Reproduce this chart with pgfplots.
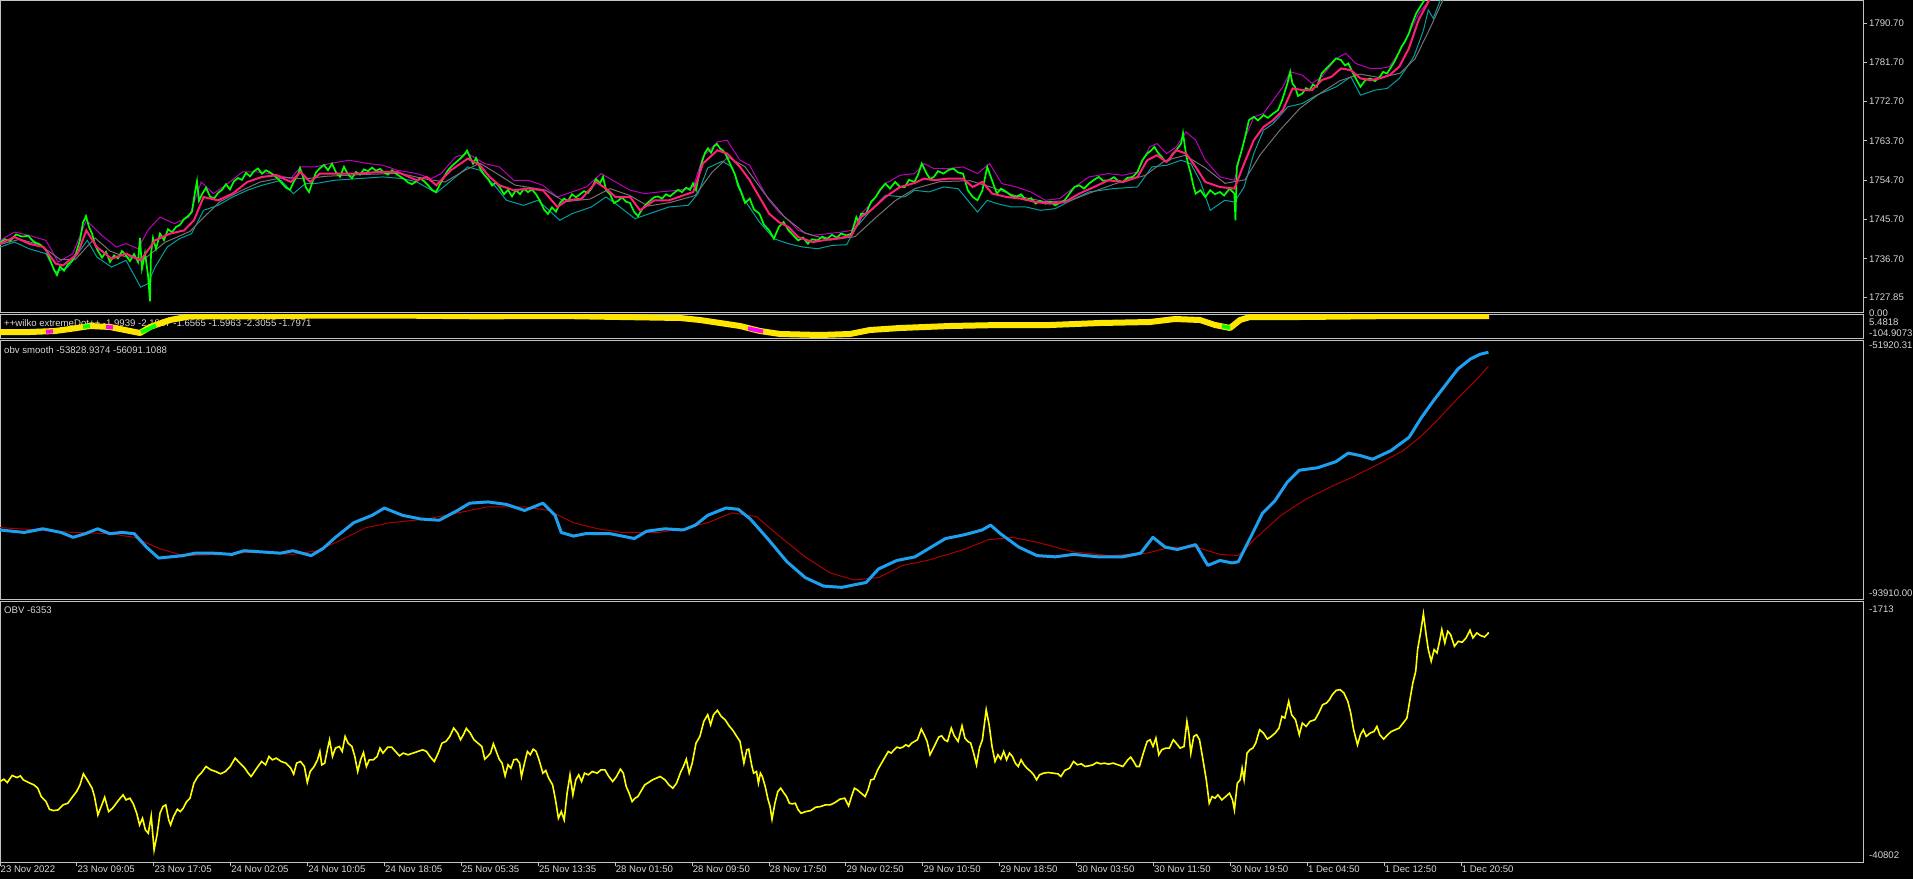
\documentclass[border=0pt]{standalone}
\usepackage{fontspec}
\setmainfont{Liberation Sans}
\usepackage{pgfplots}
\pgfplotsset{compat=1.18}

\definecolor{txt}{RGB}{215,215,215}
\definecolor{frame}{RGB}{195,195,195}
\definecolor{price}{RGB}{0,255,0}
\definecolor{ma}{RGB}{255,30,120}
\definecolor{slow}{RGB}{115,115,115}
\definecolor{upper}{RGB}{190,0,190}
\definecolor{lower}{RGB}{0,160,160}
\definecolor{obvblue}{RGB}{30,160,240}
\definecolor{obvred}{RGB}{170,0,0}
\definecolor{obvyel}{RGB}{255,255,0}
\definecolor{dotyel}{RGB}{255,230,0}
\definecolor{dotpink}{RGB}{255,0,255}
\newcommand{\lab}{\fontsize{9.6}{11}\selectfont}

\pgfplotsset{
  pane/.style={
    scale only axis, width=1863pt, xmin=0, xmax=1863,
    anchor=north west,
    axis line style={frame, line width=1pt},
    xtick=\empty, ytick=\empty,
    tick style={frame, line width=1pt},
    ticklabel style={text=txt, font=\lab},
  },
}

\begin{document}
\begin{tikzpicture}[x=1pt,y=1pt]
\fill[black] (0,0) rectangle (1913,-879);
\useasboundingbox (0,0) rectangle (1913,-879);

% window titles (drawn first, the lines go over them)
\node[anchor=west, text=txt, font=\lab, inner sep=0pt] at (4,-323.5) {++wilko extremeDot++ -1.9939 -2.1817 -1.6565 -1.5963 -2.3055 -1.7971};
\node[anchor=west, text=txt, font=\lab, inner sep=0pt] at (4,-350) {obv smooth -53828.9374 -56091.1088};
\node[anchor=west, text=txt, font=\lab, inner sep=0pt] at (4,-610.5) {OBV -6353};

% price window
\begin{axis}[pane, at={(0pt,0pt)}, height=312.5pt,
  ymin=1724.43, ymax=1795.97,
  ytick={1790.70,1781.70,1772.70,1763.70,1754.70,1745.70,1736.70,1727.85},
  yticklabels={1790.70,1781.70,1772.70,1763.70,1754.70,1745.70,1736.70,1727.85},
  ytick pos=right, yticklabel pos=right, tick align=outside, major tick length=4pt,
  yticklabel style={anchor=west, inner sep=0pt, xshift=2pt}]
\addplot[lower, line width=1pt] coordinates {
(0,1739.41) (14.5,1740.56) (29.1,1739.03) (46.0,1737.89) (55.7,1733.68) (67.9,1734.83) (87.3,1740.94) (96.9,1737.12) (111.5,1734.83) (126.0,1736.36) (140.6,1730.24) (147.8,1731.01) (155.1,1734.83) (167.2,1739.41) (179.4,1741.32) (191.5,1742.47) (203.6,1747.82) (218.1,1748.97) (232.7,1750.88) (247.2,1752.41) (261.8,1753.55) (281.1,1754.70) (293.3,1751.64) (305.4,1753.94) (315.1,1753.94) (334.5,1754.70) (358.7,1755.09) (382.9,1755.47) (402.3,1755.09) (416.9,1754.32) (436.3,1751.80) (455.6,1755.47) (467.8,1757.76) (479.9,1757.00) (494.4,1753.55) (506.5,1750.12) (523.5,1748.97) (538.0,1750.12) (559.8,1745.53) (572.0,1747.06) (591.4,1748.59) (605.9,1750.88) (615.6,1749.35) (635.0,1745.91) (649.5,1747.06) (669.0,1748.59) (688.3,1748.97) (698.0,1751.64) (707.7,1757.52) (722.2,1759.05) (731.9,1757.76) (744.8,1750.12) (759.4,1745.15) (773.9,1741.32) (788.5,1740.18) (803.0,1739.41) (817.6,1739.03) (832.1,1739.79) (846.6,1739.95) (856.3,1744.00) (870.9,1747.82) (885.4,1751.26) (904.8,1750.88) (914.5,1752.41) (929.0,1752.03) (943.6,1753.17) (958.1,1752.79) (977.5,1747.44) (987.2,1750.12) (996.9,1749.35) (1011.5,1748.59) (1026.0,1748.59) (1040.5,1747.82) (1055.1,1748.20) (1074.5,1750.50) (1089.0,1752.03) (1113.2,1752.79) (1137.5,1753.17) (1152.0,1757.76) (1166.6,1758.14) (1181.1,1759.29) (1190.8,1758.52) (1200.5,1754.32) (1210.2,1747.82) (1224.7,1750.12) (1234.4,1749.73) (1244.1,1753.17) (1253.8,1760.82) (1263.5,1766.16) (1273.2,1767.69) (1287.8,1771.52) (1302.3,1772.28) (1316.8,1774.19) (1336.2,1776.10) (1350.8,1778.39) (1360.5,1774.19) (1375.0,1775.34) (1387.1,1775.72) (1399.2,1778.01) (1413.8,1782.98) (1423.5,1789.10) (1428.3,1793.68) (1433.2,1791.77) (1440.4,1795.97) (1460,1799) (1489,1808)
};
\addplot[upper, line width=1pt] coordinates {
(0,1740.94) (14.5,1742.85) (29.1,1742.09) (46.0,1740.94) (58.2,1735.97) (72.7,1737.89) (86.3,1745.53) (101.8,1742.09) (116.3,1739.41) (126.0,1740.18) (138.1,1739.03) (147.8,1743.24) (160.0,1746.29) (174.5,1744.77) (189.0,1746.29) (201.2,1754.32) (213.3,1751.64) (227.8,1753.94) (242.4,1756.61) (256.9,1756.61) (271.4,1756.23) (290.8,1755.09) (300.5,1757.76) (315.1,1757.76) (329.6,1758.52) (349.0,1759.29) (368.4,1758.52) (382.9,1758.14) (397.5,1757.00) (416.9,1756.23) (431.4,1755.09) (441.1,1756.23) (455.6,1760.05) (467.8,1760.82) (484.7,1758.52) (499.3,1757.76) (513.8,1754.70) (528.4,1754.70) (542.9,1753.55) (557.4,1750.88) (572.0,1752.03) (586.5,1753.17) (601.1,1756.23) (615.6,1754.32) (630.2,1752.41) (644.7,1751.64) (659.2,1752.03) (678.6,1752.41) (693.2,1753.17) (702.9,1760.05) (717.4,1763.49) (727.1,1763.87) (740,1759.29) (749.7,1758.14) (759.4,1753.94) (769.1,1750.12) (778.8,1747.44) (788.5,1745.53) (798.2,1743.24) (812.7,1742.09) (827.3,1742.47) (841.8,1742.85) (851.5,1743.24) (861.2,1747.06) (870.9,1749.35) (885.4,1753.94) (900,1755.85) (914.5,1756.23) (924.2,1758.52) (933.9,1757.38) (948.4,1757.38) (963,1757.76) (977.5,1756.23) (989.6,1758.52) (1001.8,1753.94) (1016.3,1753.17) (1030.8,1752.03) (1045.4,1750.12) (1059.9,1750.53) (1074.5,1753.17) (1089,1755.47) (1108.4,1756.23) (1122.9,1755.85) (1137.5,1756.61) (1149.6,1762.34) (1156.9,1763.11) (1166.6,1760.82) (1176.3,1762.34) (1186,1765.78) (1195.7,1763.87) (1205.3,1759.29) (1219.9,1755.47) (1234.4,1754.70) (1244.1,1763.87) (1253.8,1769.22) (1263.5,1769.99) (1273.2,1773.05) (1282.9,1776.10) (1290.2,1779.54) (1302.3,1778.78) (1312,1776.86) (1321.7,1778.39) (1336.2,1782.60) (1345.9,1783.75) (1355.6,1781.45) (1370.2,1780.30) (1379.8,1780.30) (1389.5,1780.69) (1399.2,1784.13) (1408.9,1788.33) (1418.6,1792.92) (1428.3,1795.59) (1440,1800) (1489,1813)
};
\addplot[slow, line width=1pt] coordinates {
(0,1740.0) (20,1741.2) (40,1739.9) (60,1736.6) (75,1736.5) (95,1741.5) (110,1738.5) (125,1737.2) (145,1736.8) (165,1740.5) (190,1743.0) (205,1746.5) (220,1749.8) (240,1752.2) (260,1754.3) (285,1755.4) (305,1755.0) (325,1755.6) (360,1756.0) (400,1756.3) (425,1755.0) (445,1754.3) (465,1757.0) (480,1758.6) (495,1756.5) (515,1753.6) (545,1752.5) (565,1749.8) (590,1750.4) (610,1752.8) (630,1751.2) (648,1748.8) (670,1749.6) (695,1751.2) (712,1756.5) (728,1760.0) (745,1757.8) (765,1751.5) (785,1746.2) (805,1742.6) (830,1741.0) (855,1741.8) (875,1746.0) (895,1750.0) (915,1752.8) (940,1754.4) (970,1754.6) (990,1753.2) (1015,1751.2) (1045,1749.8) (1070,1750.0) (1090,1751.8) (1115,1753.9) (1145,1755.8) (1165,1759.2) (1185,1760.4) (1205,1757.6) (1225,1754.0) (1245,1754.8) (1260,1760.5) (1280,1766.2) (1300,1771.2) (1320,1774.6) (1340,1777.5) (1360,1779.0) (1380,1778.2) (1400,1779.2) (1415,1782.5) (1430,1789.5) (1445,1797) (1489,1809)
};
\addplot[price, line width=1.7pt] coordinates {
(0,1740.5) (5,1741.2) (10,1740.8) (16,1742.3) (22,1741.8) (28,1742.0) (34,1740.6) (40,1740.0) (46,1738.8) (50,1736.5) (54,1734.2) (57,1733.0) (60,1735.0) (64,1734.0) (68,1735.5) (72,1736.2) (76,1738.0) (80,1741.0) (83,1745.0) (86,1746.5) (89,1744.0) (92,1742.5) (95,1740.0) (98,1738.5) (102,1737.0) (106,1738.3) (110,1736.0) (114,1737.5) (118,1736.8) (122,1738.5) (126,1737.5) (130,1736.2) (134,1737.8) (138,1736.0) (140,1741.5) (142,1734.5) (145,1738.0) (148,1733.0) (150,1727.0) (151,1738.0) (153,1741.5) (156,1739.0) (160,1742.5) (164,1741.0) (168,1743.5) (172,1742.8) (176,1744.0) (180,1744.5) (184,1745.8) (188,1746.5) (192,1747.5) (195,1752.0) (197,1754.5) (199,1750.0) (202,1751.5) (206,1753.0) (210,1751.0) (214,1750.5) (218,1751.8) (222,1752.5) (226,1753.8) (230,1752.6) (234,1754.5) (238,1755.2) (242,1754.8) (246,1756.4) (250,1755.6) (254,1756.8) (258,1757.4) (262,1756.2) (266,1757.0) (270,1756.5) (274,1755.8) (278,1755.0) (282,1754.0) (286,1753.0) (290,1752.5) (294,1754.5) (298,1756.0) (300,1757.5) (303,1755.5) (306,1753.0) (309,1752.0) (312,1754.0) (316,1756.5) (320,1757.5) (324,1758.2) (328,1757.0) (332,1758.5) (336,1756.5) (340,1755.5) (344,1757.8) (348,1756.0) (352,1755.2) (356,1756.6) (360,1756.0) (364,1757.2) (368,1756.8) (372,1757.6) (376,1756.9) (380,1757.3) (384,1756.5) (388,1756.0) (392,1757.0) (396,1756.2) (400,1755.6) (404,1755.0) (408,1754.2) (412,1753.8) (416,1754.4) (420,1755.2) (424,1754.5) (428,1753.6) (432,1752.5) (436,1752.0) (440,1753.8) (444,1755.5) (448,1757.0) (452,1758.0) (456,1758.8) (460,1759.6) (464,1760.5) (467,1761.5) (470,1760.0) (473,1758.5) (476,1759.8) (480,1757.5) (484,1756.0) (488,1755.0) (492,1753.5) (496,1754.2) (500,1753.0) (504,1751.5) (508,1752.5) (512,1751.0) (516,1752.5) (520,1751.5) (524,1752.8) (528,1752.0) (532,1752.6) (536,1751.5) (540,1750.0) (544,1748.0) (548,1747.0) (552,1748.5) (556,1747.5) (560,1749.5) (564,1750.5) (568,1750.0) (572,1751.5) (576,1750.8) (580,1751.5) (584,1752.2) (588,1751.8) (592,1753.0) (596,1755.0) (600,1754.0) (603,1755.5) (606,1752.5) (610,1751.5) (614,1749.5) (618,1750.0) (622,1750.8) (626,1749.8) (630,1749.5) (634,1747.5) (638,1746.5) (642,1748.0) (646,1749.2) (650,1750.0) (654,1750.8) (658,1751.0) (662,1750.5) (666,1751.5) (670,1751.0) (674,1751.8) (678,1752.5) (682,1752.0) (686,1753.0) (690,1752.5) (693,1754.0) (696,1752.5) (699,1756.0) (702,1759.0) (705,1761.0) (708,1762.0) (711,1761.0) (714,1762.5) (717,1763.0) (720,1762.0) (723,1761.5) (726,1760.5) (729,1759.0) (732,1757.5) (735,1756.0) (738,1753.5) (741,1752.0) (745,1749.5) (749.7,1750.5) (754,1748.0) (759.4,1747.06) (764,1744.5) (769.1,1743.24) (773.9,1741.32) (778.8,1744.00) (783.6,1745.15) (788.5,1743.24) (793.3,1742.09) (798.2,1740.94) (803,1741.6) (807.9,1740.18) (812,1741.2) (817.6,1740.94) (822,1741.8) (827.2,1741.32) (832,1742.2) (836.9,1741.56) (841,1742.5) (846.6,1742.09) (851.5,1742.47) (856.3,1746.29) (859,1745.0) (861.2,1747.06) (866.0,1747.06) (870.9,1749.73) (875.7,1750.88) (880,1752.5) (885.4,1753.94) (890,1752.8) (895.1,1754.32) (900,1753.2) (904.8,1753.17) (909,1754.8) (914.5,1754.32) (918,1756.0) (921.8,1758.52) (926.6,1756.23) (930,1755.0) (933.9,1755.47) (938,1756.8) (943.6,1756.23) (948,1757.0) (953.3,1757.38) (958,1756.5) (963.0,1756.23) (967.8,1752.41) (972.7,1750.88) (977.5,1750.12) (982.4,1752.41) (987.2,1757.76) (992.0,1754.70) (996.9,1751.64) (1001,1752.8) (1006.6,1752.03) (1011,1751.2) (1016.3,1750.88) (1021,1751.5) (1026.0,1750.12) (1031,1750.6) (1035.7,1749.35) (1040,1750.0) (1045.4,1749.35) (1050,1749.8) (1055.1,1748.97) (1060,1749.6) (1064.7,1750.12) (1069,1751.5) (1074.4,1753.17) (1079.3,1753.55) (1084,1752.8) (1089.0,1753.94) (1094,1754.8) (1098.7,1755.47) (1103,1754.6) (1108.4,1754.70) (1114,1755.4) (1118,1754.6) (1122.9,1754.32) (1127,1755.2) (1132.6,1755.47) (1137.5,1756.61) (1142.3,1759.29) (1147.1,1760.82) (1151,1761.5) (1154.4,1762.34) (1158,1761.0) (1161.7,1760.05) (1165,1759.0) (1169.0,1759.29) (1172,1760.6) (1176.2,1761.58) (1181.1,1763.11) (1183,1765.5) (1185.9,1760.82) (1188,1758.5) (1190.8,1756.23) (1193,1753.8) (1195.6,1751.64) (1200.5,1752.41) (1205.3,1750.88) (1210.2,1752.41) (1215,1751.5) (1219.9,1752.03) (1224,1751.2) (1229.6,1752.79) (1234.4,1751.64) (1235.4,1745.53) (1236.8,1757.76) (1241.7,1761.58) (1245,1764.5) (1248.9,1768.46) (1253.8,1769.22) (1258,1768.4) (1263.5,1769.61) (1268,1769.0) (1273.2,1769.99) (1278.0,1770.75) (1282,1773.0) (1285.3,1775.34) (1287.5,1777.0) (1290.2,1779.54) (1292.5,1776.8) (1295.0,1776.10) (1298,1774.0) (1302.3,1774.57) (1306,1775.8) (1309.5,1775.34) (1313,1776.6) (1316.8,1776.10) (1321.7,1779.16) (1326,1780.2) (1331.3,1781.45) (1336,1782.6) (1341.0,1782.22) (1345,1781.0) (1348.3,1781.45) (1353.1,1779.16) (1357,1777.5) (1360.4,1776.10) (1365.3,1777.63) (1370.1,1778.01) (1375,1777.4) (1379.8,1778.39) (1383,1779.5) (1387.1,1779.16) (1394.4,1781.83) (1401.6,1785.27) (1405,1786.5) (1408.9,1788.33) (1412,1790.5) (1416.2,1792.92) (1423.4,1795.59) (1428.3,1797.5) (1440,1803) (1489,1815)
};
\addplot[ma, line width=2pt] coordinates {
(0,1740.18) (14.5,1741.70) (29.1,1740.18) (43.6,1739.41) (55.7,1735.60) (63,1735.21) (77.6,1737.89) (86.3,1743.23) (96.9,1739.41) (111.5,1736.75) (126,1737.89) (140.6,1736.36) (155.1,1740.94) (169.7,1742.48) (184.2,1743.23) (193.9,1745.53) (203.6,1750.87) (218.1,1750.11) (232.7,1751.65) (247.2,1754.31) (261.8,1755.46) (276.3,1755.85) (290.8,1754.31) (300.5,1756.60) (310.2,1754.31) (319.9,1756.24) (339.3,1756.24) (358.7,1756.24) (378.1,1756.60) (397.5,1756.60) (416.9,1754.70) (426.6,1755.46) (436.3,1753.55) (450.8,1756.99) (467.8,1759.67) (479.9,1758.14) (489.6,1755.46) (499.3,1753.55) (513.8,1752.41) (528.4,1752.80) (542.9,1752.41) (557.4,1748.58) (567.1,1750.11) (581.7,1750.50) (596.2,1754.31) (605.9,1752.80) (615.6,1750.87) (630.2,1750.87) (639.9,1747.82) (654.4,1750.11) (669,1750.11) (683.5,1751.26) (693.2,1752.01) (702.9,1758.53) (717.4,1761.58) (727.1,1760.82) (740,1757.75) (749.7,1754.70) (759.4,1750.87) (769.1,1747.06) (778.8,1745.14) (788.5,1743.99) (798.2,1741.70) (812.7,1740.55) (827.3,1741.10) (841.8,1741.56) (851.5,1742.09) (861.2,1746.29) (870.9,1747.82) (885.4,1750.87) (900,1753.16) (914.5,1754.08) (924.2,1755.09) (933.9,1754.70) (948.4,1755.09) (963,1755.09) (972.7,1753.16) (982.4,1754.31) (992.1,1751.65) (1006.6,1750.87) (1021.1,1750.50) (1035.7,1749.72) (1050.2,1749.36) (1064.8,1749.72) (1079.3,1751.65) (1093.9,1753.16) (1108.4,1754.70) (1122.9,1754.31) (1137.5,1755.46) (1147.2,1759.28) (1156.9,1760.43) (1166.6,1758.90) (1176.3,1761.58) (1186,1760.82) (1195.7,1757.75) (1205.3,1754.31) (1219.9,1753.16) (1234.4,1752.80) (1244.1,1758.53) (1253.8,1763.87) (1263.5,1766.92) (1273.2,1768.46) (1282.9,1770.75) (1292.6,1775.73) (1302.3,1775.34) (1312,1775.34) (1321.7,1777.63) (1331.4,1778.39) (1341.1,1780.31) (1350.8,1779.92) (1360.5,1778.02) (1370.2,1777.63) (1379.8,1778.02) (1389.5,1778.78) (1399.2,1780.68) (1408.9,1784.90) (1418.6,1791.39) (1428.3,1795.58) (1440,1800.5) (1465,1806) (1489,1811)
};
\end{axis}

% extremeDot window
\begin{axis}[pane, at={(0pt,-314.5pt)}, height=24pt, ymin=-104.9073, ymax=5.4818]
\addplot[dotyel, line width=6pt, line join=round] coordinates {
(0,-75.0) (30,-75.0) (55,-70.4) (70,-61.2) (90,-47.4) (110,-52.0) (130,-70.4) (140,-79.6) (150,-52.0) (170,-19.8) (190,-3.0) (250,-3.0) (320,0.5) (400,0.5) (480,-3.0) (560,-1.4) (620,-6.0) (680,-10.6) (700,-19.8) (720,-33.6) (740,-47.4) (760,-70.4) (780,-84.2) (820,-88.8) (850,-84.2) (870,-65.8) (900,-56.6) (950,-47.4) (1000,-42.8) (1050,-42.8) (1100,-33.6) (1150,-29.0) (1175,-15.2) (1200,-19.8) (1215,-42.8) (1230,-56.6) (1240,-19.8) (1250,-6.0) (1300,-6.0) (1400,-1.4) (1489,-1.4)
};
\addplot[dotpink, line width=4pt] coordinates {(46,-74) (53,-72)};
\addplot[price, line width=4pt] coordinates {(83,-51) (90,-47.5)};
\addplot[dotpink, line width=4pt] coordinates {(106,-51) (113,-54)};
\addplot[price, line width=4pt] coordinates {(141,-76) (156,-45)};
\addplot[dotpink, line width=4pt] coordinates {(748,-58) (763,-73)};
\addplot[price, line width=4pt] coordinates {(1222,-48) (1230,-56)};
\end{axis}

% obv smooth window
\begin{axis}[pane, at={(0pt,-340.5pt)}, height=259pt, ymin=-93910, ymax=-51920.31]
\addplot[obvred, line width=1pt] coordinates {
(0,-82245) (36.6,-82640) (73.2,-83036) (109.8,-83234) (134.2,-83827) (158.6,-85607) (183,-86794) (219.6,-86596) (256.2,-86201) (292.8,-86596) (317.2,-86001) (341.6,-84223) (366,-82245) (390.4,-81454) (427,-80860) (463.6,-79674) (488,-78882) (524.6,-78882) (549,-79476) (573.4,-81454) (597.8,-82443) (622.2,-83036) (658.8,-83036) (683.2,-82443) (707.6,-81454) (732,-79871) (756.4,-80465) (780.8,-83827) (805.2,-86992) (829.6,-89563) (854,-90750) (878.4,-90354) (902.8,-88376) (927.2,-87585) (963.8,-85805) (988.2,-84223) (1012.6,-83827) (1037,-84618) (1073.6,-86201) (1110.2,-86794) (1146.8,-86398) (1171.2,-85409) (1195.6,-85409) (1220,-86596) (1238.3,-86794) (1256.6,-83827) (1281,-80267) (1305.4,-77696) (1329.8,-75718) (1354.2,-73938) (1378.6,-71960) (1403,-69784) (1421.3,-67411) (1439.6,-64444) (1457.9,-61280) (1476.2,-58313) (1488.4,-56091)
};
\addplot[obvblue, line width=3pt, line join=round] coordinates {
(0,-82640) (24.4,-83036) (42.7,-82443) (61,-83036) (73.2,-83827) (85.4,-83234) (97.6,-82443) (109.8,-83234) (122,-83036) (134.2,-83234) (146.4,-85409) (158.6,-87190) (170.8,-86992) (183,-86794) (195.2,-86398) (213.5,-86398) (231.8,-86596) (244,-86001) (262.3,-86201) (280.6,-86398) (292.8,-86001) (311.1,-86794) (323.3,-85607) (335.5,-83827) (353.8,-81454) (372.1,-80267) (384.3,-79080) (402.6,-80267) (420.9,-80860) (439.2,-81058) (457.5,-79476) (469.7,-78289) (488,-78091) (506.3,-78487) (524.6,-79476) (542.9,-78289) (555.1,-80267) (561.2,-83036) (573.4,-83629) (585.6,-83234) (597.8,-83234) (610,-83234) (622.2,-83629) (634.4,-84025) (646.6,-82838) (664.9,-82443) (683.2,-82640) (695.4,-81849) (707.6,-80267) (725.9,-79080) (738.1,-79278) (750.3,-80860) (768.6,-84223) (786.9,-87783) (805.2,-90354) (823.5,-91739) (841.8,-91937) (854,-91541) (866.2,-91145) (878.4,-88970) (896.7,-87585) (915,-86992) (927.2,-85805) (945.5,-84025) (963.8,-83432) (982.1,-82640) (990.6,-81849) (1000.4,-83234) (1018.7,-85409) (1037,-86794) (1055.3,-86992) (1073.6,-86596) (1098,-86992) (1122.4,-86992) (1140.7,-86398) (1152.9,-83827) (1165.1,-85409) (1177.3,-85805) (1195.6,-85014) (1207.8,-88376) (1220,-87585) (1232.2,-87981) (1238.3,-87783) (1250.5,-83827) (1262.7,-79871) (1274.9,-77893) (1287.1,-74927) (1299.3,-72949) (1317.6,-72553) (1335.9,-71564) (1348.1,-70180) (1360.3,-70575) (1372.5,-71169) (1390.8,-69784) (1409.1,-67608) (1421.3,-64444) (1433.5,-61675) (1445.7,-59103) (1457.9,-56532) (1470.1,-54950) (1479.9,-54159) (1488.4,-53829)
};
\end{axis}

% OBV window
\begin{axis}[pane, at={(0pt,-601.5pt)}, height=260.5pt, ymin=-40802, ymax=-1713,
  xtick={0,76.9,153.8,230.7,307.6,384.5,461.4,538.3,615.2,692.1,769,845.9,922.8,999.7,1076.6,1153.5,1230.4,1307.3,1384.2,1461.1},
  xticklabels={23 Nov 2022,23 Nov 09:05,23 Nov 17:05,24 Nov 02:05,24 Nov 10:05,24 Nov 18:05,25 Nov 05:35,25 Nov 13:35,28 Nov 01:50,28 Nov 09:50,28 Nov 17:50,29 Nov 02:50,29 Nov 10:50,29 Nov 18:50,30 Nov 03:50,30 Nov 11:50,30 Nov 19:50,1 Dec 04:50,1 Dec 12:50,1 Dec 20:50},
  xtick pos=bottom, tick align=outside, major tick length=4pt,
  xticklabel style={anchor=north west, inner sep=0pt, xshift=0.5pt}]
\addplot[obvyel, line width=1.6pt] coordinates {
(0,-28724) (3.9,-28373) (7.3,-28874) (12.1,-27822) (17.0,-28122) (20.4,-27872) (23.3,-28473) (26.7,-28724) (30.1,-28974) (33.9,-29225) (37.8,-29726) (41.2,-30979) (46.0,-31730) (49.4,-32883) (53.3,-33083) (58.2,-32983) (63.0,-32231) (67.9,-31981) (72.7,-30979) (76.6,-30227) (80.0,-29225) (83.4,-27571) (87.2,-28473) (92.1,-29726) (94.5,-30979) (97.9,-33735) (101.8,-32231) (104.7,-31079) (108.6,-33234) (112.5,-32733) (116.3,-31981) (120.2,-31229) (123.1,-30728) (126.0,-31480) (129.9,-31229) (133.3,-32081) (136.7,-33484) (139.6,-35238) (142.5,-34236) (145.4,-35990) (148.3,-36491) (151.2,-33885) (154.1,-38997) (157.0,-36742) (160.0,-33484) (162.9,-32482) (165.8,-32231) (168.7,-34487) (170.6,-35238) (173.5,-33985) (177.4,-32883) (180.3,-33234) (183.2,-32733) (186.6,-31730) (190.0,-31229) (193.9,-28974) (197.8,-27972) (201.2,-27471) (206.0,-26469) (210.8,-26970) (215.7,-27220) (220.5,-27571) (225.4,-27220) (230.2,-26469) (235.1,-25216) (239.9,-25967) (244.8,-26719) (248.2,-27471) (251.1,-27972) (254.5,-27220) (257.9,-26469) (261.7,-25717) (265.6,-26218) (269.0,-24965) (272.4,-25466) (276.3,-25216) (281.1,-25717) (286.0,-25967) (290.8,-26719) (293.7,-27621) (296.6,-25967) (300.5,-25717) (304.4,-26469) (307.3,-28874) (310.2,-27220) (314.1,-26469) (317.5,-25466) (319.9,-24213) (321.8,-26218) (324.7,-25967) (327.7,-23712) (329.6,-22459) (332.5,-24965) (335.4,-23712) (339.3,-23462) (342.2,-24213) (345.1,-21958) (348.0,-22961) (351.9,-23462) (354.8,-24965) (357.7,-27220) (360.6,-25466) (363.5,-24364) (366.4,-26469) (369.3,-25466) (373.2,-25466) (377.1,-24965) (380.0,-23712) (382.9,-24464) (387.8,-23562) (391.6,-23562) (395.5,-24213) (399.4,-24865) (403.3,-24464) (408.1,-24715) (413.0,-24464) (417.8,-24213) (422.7,-23963) (426.5,-24213) (430.4,-25065) (434.3,-25717) (438.2,-24464) (442.0,-22961) (445.9,-22710) (449.8,-21958) (453.7,-20706) (457.6,-21457) (460.5,-22459) (463.4,-21708) (466.3,-20756) (470.2,-21457) (474.0,-22459) (477.9,-22961) (481.8,-23462) (484.7,-25366) (487.6,-24965) (490.5,-24464) (493.4,-23061) (496.3,-24213) (499.2,-25366) (502.1,-25967) (505.1,-27872) (508.0,-26218) (510.9,-26719) (513.8,-25466) (516.7,-25366) (519.6,-25967) (521.5,-27972) (524.5,-25967) (527.4,-24213) (530.3,-24715) (533.2,-23863) (536.1,-24213) (539.0,-25466) (542.9,-27471) (545.8,-27070) (548.7,-28222) (552.6,-29225) (555.5,-31480) (558.4,-34236) (561.3,-33234) (564.2,-34487) (567.1,-30478) (570.0,-27721) (572.9,-30728) (575.8,-28473) (578.7,-27721) (581.6,-28724) (584.5,-27471) (588.4,-27721) (592.3,-27220) (597.1,-27471) (601.0,-26970) (604.9,-26970) (608.8,-27972) (612.7,-28724) (616.5,-27972) (620.4,-26869) (623.3,-27471) (626.2,-29475) (629.1,-30478) (632.1,-31730) (635.0,-31229) (637.9,-30979) (640.8,-30227) (644.7,-29225) (648.5,-28874) (652.4,-28473) (656.3,-28222) (660.2,-27972) (665.0,-28473) (668.9,-29225) (672.8,-29726) (676.6,-28974) (680.5,-27371) (683.4,-26469) (686.3,-25366) (689.2,-27471) (692.2,-25967) (696.0,-22961) (699.9,-21958) (703.8,-19703) (707.7,-18701) (710.6,-20204) (713.5,-18701) (717.4,-18050) (721.2,-18952) (725.1,-19453) (729.0,-20355) (732.9,-21056) (736.7,-21958)
(740,-22710) (743.9,-25967) (746.8,-23963) (748.7,-23863) (751.6,-26218) (753.6,-27471) (756.5,-27220) (758.4,-28974) (760.4,-27471) (762.3,-27972) (765.2,-29475) (768.1,-31480) (770.1,-32482) (772.0,-34386) (774.9,-31981) (777.8,-30227) (780.7,-29726) (783.6,-30377) (786.5,-30979) (789.4,-31981) (792.3,-32081) (795.3,-31981) (798.2,-32983) (801.1,-33484) (805.9,-33234) (810.8,-33083) (815.6,-32582) (820.5,-32482) (825.3,-32231) (830.2,-32231) (835.0,-31881) (839.8,-31380) (844.7,-31229) (848.6,-32382) (851.5,-30979) (854.4,-29726) (857.3,-29976) (861.2,-30478) (865.1,-30979) (868.0,-29976) (870.9,-28473) (873.8,-28373) (877.7,-26970) (881.5,-25967) (885.4,-24965) (888.3,-24213) (891.2,-24464) (894.1,-23963) (897.0,-23562) (900.0,-23712) (902.9,-23562) (905.8,-23211) (908.7,-23462) (911.6,-22961) (914.5,-22710) (917.4,-22459) (921.3,-20856) (924.2,-21708) (927.1,-22710) (930.0,-24715) (932.9,-23863) (935.8,-22961) (938.7,-22059) (941.6,-21858) (944.5,-22459) (947.5,-22710) (951.3,-20706) (954.2,-21858) (958.1,-22710) (962.0,-20355) (964.9,-22209) (967.8,-22710) (970.7,-22961) (973.6,-24464) (976.5,-26218) (979.4,-23712) (982.4,-22459) (986.2,-17949) (989.1,-20204) (992.0,-23462) (995.0,-25717) (997.9,-24715) (1000.8,-25366) (1003.7,-24213) (1006.6,-25466) (1009.5,-24464) (1012.4,-24965) (1015.3,-25967) (1018.2,-26469) (1021.1,-25466) (1024.0,-26218) (1026.9,-26719) (1030.8,-27220) (1033.7,-27721) (1036.6,-28473) (1039.5,-27721) (1043.4,-27471) (1048.3,-27371) (1053.1,-27471) (1058.0,-27571) (1060.9,-27972) (1064.7,-27070) (1069.6,-26719) (1073.5,-25717) (1077.4,-26218) (1081.2,-26068) (1085.1,-26469) (1089.0,-26368) (1092.9,-26218) (1096.7,-25867) (1100.6,-26068) (1104.5,-25967) (1108.4,-26118) (1113.2,-25967) (1118.1,-26218) (1122.9,-26469) (1127.8,-25466) (1130.7,-25065) (1133.6,-25717) (1136.5,-26469) (1139.4,-26469) (1143.3,-24464) (1147.1,-22710) (1150.1,-22459) (1153.0,-23462) (1155.9,-22209) (1158.8,-24715) (1161.7,-23963) (1165.6,-23712) (1169.4,-23712) (1173.3,-22459) (1176.2,-22961) (1180.1,-23712) (1184.0,-23462) (1186.9,-19703) (1188.8,-21457) (1190.8,-24464) (1193.7,-21958) (1196.6,-21708) (1199.5,-22459) (1202.4,-24965) (1206.3,-28473) (1209.2,-31981) (1212.1,-30979) (1215.0,-31229) (1217.9,-30728) (1221.8,-31480) (1225.7,-30979) (1229.5,-30478) (1232.5,-31480) (1234.4,-32983) (1237.3,-28974) (1240.2,-28473) (1242.1,-26719) (1244.1,-28473) (1247.0,-24464) (1249.9,-23963) (1252.8,-23712) (1255.7,-22961) (1259.6,-20956) (1263.5,-21457) (1267.3,-22359) (1271.2,-21958) (1275.1,-21457) (1279.0,-20706) (1281.9,-18952) (1284.8,-19202) (1288.7,-16696) (1291.6,-18701) (1295.5,-19453) (1299.3,-21708) (1302.3,-19954) (1306.1,-20455) (1310.0,-19703) (1314.9,-19453) (1318.7,-18450) (1322.6,-17198) (1326.5,-16947) (1329.4,-16446) (1332.3,-15694) (1336.2,-15043) (1340.1,-14943) (1343.9,-15444) (1347.8,-16696) (1350.7,-18450) (1353.6,-20956) (1357.5,-23211) (1360.4,-21708) (1363.3,-20956) (1366.2,-21958) (1370.1,-21457) (1374.0,-21207) (1376.9,-20455) (1379.8,-21708) (1383.7,-22359) (1387.6,-21708) (1391.4,-21207) (1395.3,-20956) (1399.2,-20706) (1403.1,-19954) (1406.9,-19202) (1409.9,-16446) (1412.8,-13940) (1415.7,-12186) (1417.6,-8929) (1420.5,-6423) (1423.4,-3567) (1426.3,-6924) (1428.3,-8929) (1431.2,-10683) (1434.1,-8929) (1437.0,-9430) (1439.9,-7426) (1441.8,-5922) (1444.8,-7927) (1447.7,-6173) (1450.6,-6674) (1454.4,-8428) (1458.3,-7676) (1462.2,-7826) (1466.1,-7175) (1470.0,-6022) (1472.9,-7175) (1476.8,-6423) (1480.6,-6824) (1484.5,-7025) (1488.9,-6353)
};
\end{axis}

% scale labels of the indicator windows
\node[anchor=west, text=txt, font=\lab, inner sep=0pt] at (1869,-313.5) {0.00};
\node[anchor=west, text=txt, font=\lab, inner sep=0pt] at (1869,-322.5) {5.4818};
\node[anchor=west, text=txt, font=\lab, inner sep=0pt] at (1869,-333) {-104.9073};
\node[anchor=west, text=txt, font=\lab, inner sep=0pt] at (1869,-345.5) {-51920.31};
\node[anchor=west, text=txt, font=\lab, inner sep=0pt] at (1869,-593) {-93910.00};
\node[anchor=west, text=txt, font=\lab, inner sep=0pt] at (1869,-609) {-1713};
\node[anchor=west, text=txt, font=\lab, inner sep=0pt] at (1869,-855) {-40802};
\end{tikzpicture}
\end{document}
